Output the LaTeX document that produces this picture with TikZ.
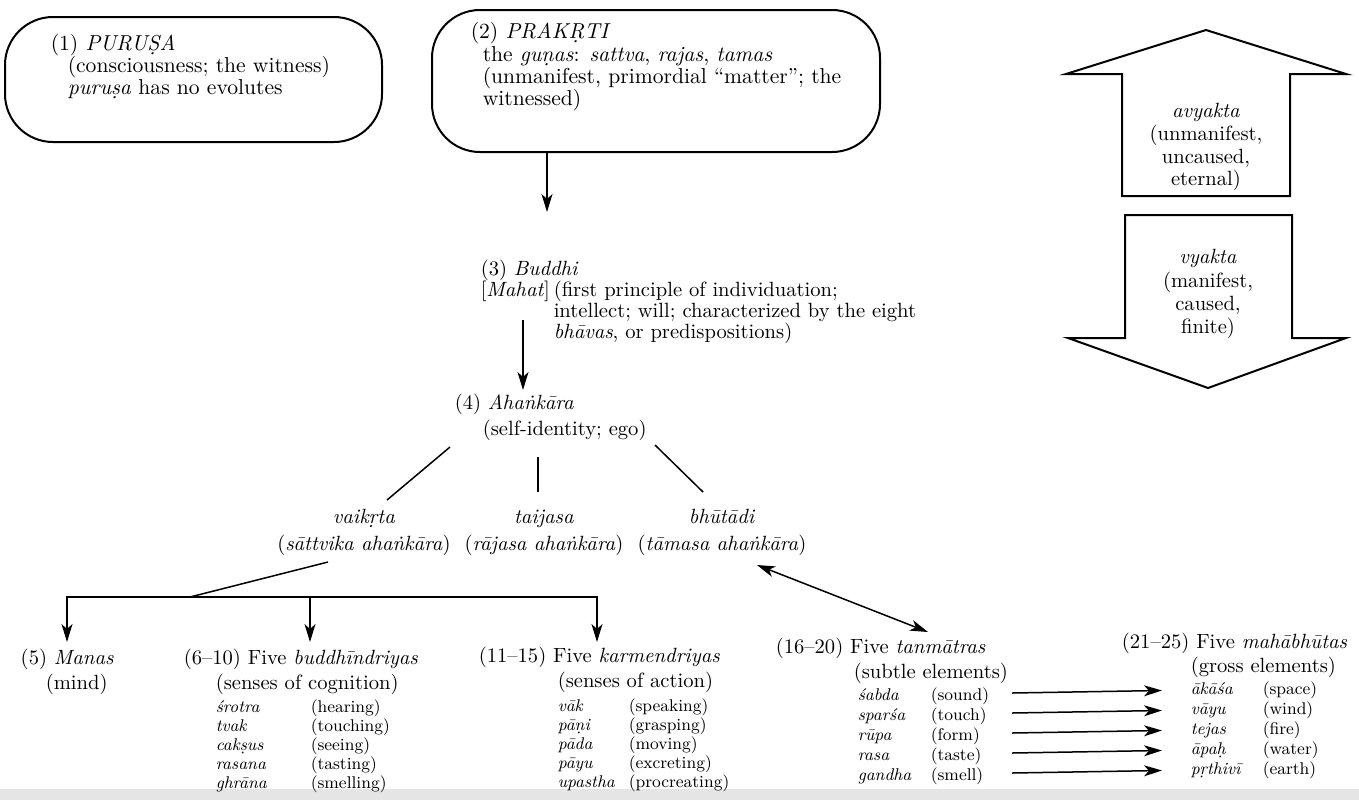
\documentclass[tikz,border=0pt]{standalone}
\usetikzlibrary{arrows.meta}

\tikzset{
  lbl/.style={anchor=base west, inner sep=0pt},
  boxtxt/.style={lbl, font=\fontsize{10.8}{13}\selectfont},
  mid/.style={anchor=base, inner sep=0pt},
  lst/.style={anchor=base west, inner sep=0pt, text height=6pt, text depth=2pt,
              font=\fontsize{8.5}{10}\selectfont},
}

\begin{document}
\begin{tikzpicture}[x=0.5pt, y=-0.5pt, font=\fontsize{10.3}{12}\selectfont,
    line width=0.75pt, >={Stealth[length=9pt, width=5.5pt, inset=2.5pt]}]
\useasboundingbox (0,0) rectangle (1359,800);
\fill[black!10] (0,789) rectangle (1359,800);

% the two top boxes
\begin{scope}[every node/.style={draw, line width=1pt, rounded corners=24pt, inner sep=0pt}]
    \node[minimum width=188.5pt, minimum height=62.5pt] (purusa) at (193.5,79.5) {};
    \node[minimum width=224pt, minimum height=71pt] (prakrti) at (656,81) {};
\end{scope}

\node[boxtxt] (purusa-0) at (50,50) {(1) \textit{PURU\d{S}A}};
\node[boxtxt] (purusa-1) at (67,72) {(consciousness; the witness)};
\node[boxtxt] (purusa-2) at (67,94) {\textit{puru\d{s}a} has no evolutes};

\node[boxtxt] (prakrti-0) at (470,38) {(2) \textit{PRAK\d{R}TI}};
\node[boxtxt] (prakrti-1) at (482,61) {the \textit{gu\d{n}as}: \textit{sattva}, \textit{rajas}, \textit{tamas}};
\node[boxtxt] (prakrti-2) at (482,83) {(unmanifest, primordial ``matter''; the};
\node[boxtxt] (prakrti-3) at (482,105) {witnessed)};

% avyakta / vyakta
\draw[line width=1pt] (1206,30) -- (1346,74) -- (1290,74) -- (1290,196) -- (1122,196)
    -- (1122,74) -- (1066,74) -- cycle;
\draw[line width=1pt] (1125,215) -- (1292,215) -- (1292,338) -- (1346,338) -- (1208,388)
    -- (1068,338) -- (1125,338) -- cycle;
\node[mid] (avyakta) at (1206,117) {\textit{avyakta}};
\node[mid] (avyakta-1) at (1206,140) {(unmanifest,};
\node[mid] (avyakta-2) at (1206,163) {uncaused,};
\node[mid] (avyakta-3) at (1206,185) {eternal)};
\node[mid] (vyakta) at (1208,263) {\textit{vyakta}};
\node[mid] (vyakta-1) at (1208,287) {(manifest,};
\node[mid] (vyakta-2) at (1208,310) {caused,};
\node[mid] (vyakta-3) at (1208,333) {finite)};

% buddhi and ahankara
\node[lbl] (buddhi) at (480,275) {(3) \textit{Buddhi}};
\node[lbl] (mahat) at (480,296) {[\textit{Mahat}]};
\node[lbl] (buddhi-1) at (553,296) {(first principle of individuation;};
\node[lbl] (buddhi-2) at (553,317) {intellect; will; characterized by the eight};
\node[lbl] (buddhi-3) at (553,338) {\textit{bh\={a}vas}, or predispositions)};

\node[lbl] (ahankara) at (454,409) {(4) \textit{Aha\.{n}k\={a}ra}};
\node[lbl] (ahankara-1) at (482,435) {(self-identity; ego)};

\node[mid] (vaikrta) at (364,523) {\textit{vaik\d{r}ta}};
\node[mid] (vaikrta-1) at (364,550) {(\textit{s\={a}ttvika aha\.{n}k\={a}ra})};
\node[mid] (taijasa) at (544,523) {\textit{taijasa}};
\node[mid] (taijasa-1) at (544,550) {(\textit{r\={a}jasa aha\.{n}k\={a}ra})};
\node[mid] (bhutadi) at (722,523) {\textit{bh\={u}t\={a}di}};
\node[mid] (bhutadi-1) at (722,550) {(\textit{t\={a}masa aha\.{n}k\={a}ra})};

% the evolutes
\node[lbl] (manas) at (20,664) {(5) \textit{Manas}};
\node[lbl] (manas-1) at (45,689) {(mind)};

\node[lbl] (buddhi-ind) at (183,664) {(6--10) Five \textit{buddh\={\i}ndriyas}};
\node[lbl] (buddhi-ind-1) at (215,689) {(senses of cognition)};
\foreach \n/\g [count=\i] in {\'{s}rotra/(hearing), tvak/(touching), cak\d{s}us/(seeing),
    rasana/(tasting), ghr\={a}na/(smelling)} {
    \node[lst] (bn\i) at (215,{693+19*\i}) {\textit{\n}};
    \node[lst] (bg\i) at (310,{693+19*\i}) {\g};
}

\node[lbl] (karm-ind) at (478,662) {(11--15) Five \textit{karmendriyas}};
\node[lbl] (karm-ind-1) at (557,687) {(senses of action)};
\foreach \n/\g [count=\i] in {v\={a}k/(speaking), p\={a}\d{n}i/(grasping), p\={a}da/(moving),
    p\={a}yu/(excreting), upastha/(procreating)} {
    \node[lst] (kn\i) at (557,{692+19*\i}) {\textit{\n}};
    \node[lst] (kg\i) at (628,{692+19*\i}) {\g};
}

\node[lbl] (tanmatra) at (775,653) {(16--20) Five \textit{tanm\={a}tras}};
\node[lbl] (tanmatra-1) at (853,678) {(subtle elements)};
\foreach \n/\g [count=\i] in {\'{s}abda/(sound), spar\'{s}a/(touch), r\={u}pa/(form),
    rasa/(taste), gandha/(smell)} {
    \node[lst] (tn\i) at (857,{680+20*\i}) {\textit{\n}};
    \node[lst] (tg\i) at (930,{680+20*\i}) {\g};
    \coordinate (tt\i) at (1012,{673+20*\i});
}

\node[anchor=base east, inner sep=0pt] (mahabhuta) at (1348,648) {(21--25) Five \textit{mah\={a}bh\={u}tas}};
\node[lbl] (mahabhuta-1) at (1190,672) {(gross elements)};
\foreach \n/\g [count=\i] in {\={a}k\={a}\'{s}a/(space), v\={a}yu/(wind), tejas/(fire),
    \={a}pa\d{h}/(water), p\d{r}thiv\={\i}/(earth)} {
    \node[lst] (mn\i) at (1190,{674+20*\i}) {\textit{\n}};
    \node[lst] (mg\i) at (1262,{674+20*\i}) {\g};
}

% connector ends
\coordinate (bu-in) at (547,212);
\coordinate (bu-out) at (523,320);
\coordinate (ah-in) at (523,390);
\coordinate (ah-l) at (450,447);   \coordinate (va-in) at (387,500);
\coordinate (ah-m) at (538,457);   \coordinate (ta-in) at (538,492);
\coordinate (ah-r) at (655,445);   \coordinate (bh-in) at (703,492);
\coordinate (va-out) at (328,562); \coordinate (fork) at (190,597);
\coordinate (ma-in) at (67,642);   \coordinate (bi-in) at (310,642);
\coordinate (ki-in) at (597,642);
\coordinate (bh-out) at (757,565); \coordinate (tm-in) at (928,632);

\draw[->] (prakrti.south -| bu-in) -- (bu-in);
\draw[->] (bu-out) -- (ah-in);
\draw (ah-l) -- (va-in);
\draw (ah-m) -- (ta-in);
\draw (ah-r) -- (bh-in);
\draw (va-out) -- (fork);
\draw[->] (fork) -| (ma-in);
\draw[->] (fork) -| (ki-in);
\draw[->] (fork -| bi-in) -- (bi-in);
\draw[<->] (bh-out) -- (tm-in);
\foreach \i in {1,...,5}
    \draw[->, shorten >=14pt] (tt\i) -- (mn\i.west);
\end{tikzpicture}
\end{document}
